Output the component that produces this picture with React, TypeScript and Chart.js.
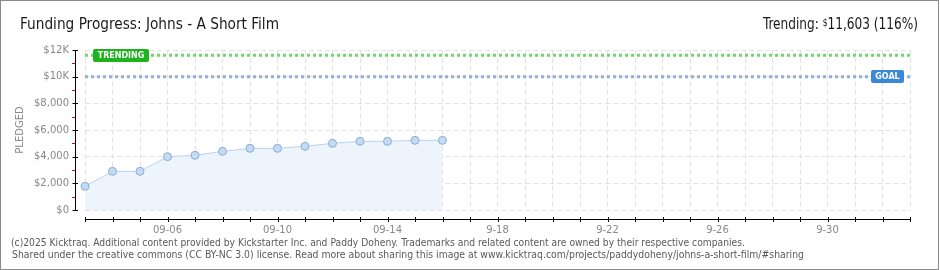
import React, { useEffect, useLayoutEffect, useRef } from 'react';
import { Chart, registerables } from 'chart.js';

Chart.register(...registerables);

// ---------- data ----------
const dateLabels = [
  '09-03', '09-04', '09-05', '09-06', '09-07', '09-08', '09-09', '09-10',
  '09-11', '09-12', '09-13', '09-14', '09-15', '09-16', '09-17', '09-18',
  '09-19', '09-20', '09-21', '09-22', '09-23', '09-24', '09-25', '09-26',
  '09-27', '09-28', '09-29', '09-30', '10-01', '10-02', '10-03',
];
const shownTickLabels: Record<string, string> = {
  '09-06': '09-06',
  '09-10': '09-10',
  '09-14': '09-14',
  '09-18': '9-18',
  '09-22': '9-22',
  '09-26': '9-26',
  '09-30': '9-30',
};
const pledged = [1775, 2900, 2900, 4000, 4100, 4400, 4625, 4625, 4775, 5000, 5150, 5150, 5225, 5225];
const goalValue = 10000;
const trendingValue = 11603;
const yMajorTicks = [0, 2000, 4000, 6000, 8000, 10000, 12000];
const yMinorTicks = [1000, 3000, 5000, 7000, 9000, 11000];

const titleText = 'Funding Progress: Johns - A Short Film';
const trendingPrefix = 'Trending: ';
const trendingAmount = '11,603 (116%)';
const footer1 = '(c)2025 Kicktraq. Additional content provided by Kickstarter Inc. and Paddy Doheny. Trademarks and related content are owned by their respective companies.';
const footer2 = 'Shared under the creative commons (CC BY-NC 3.0) license. Read more about sharing this image at www.kicktraq.com/projects/paddydoheny/johns-a-short-film/#sharing';

// ---------- helpers ----------
function FitText(props: { left: number; top: number; width: number; style: React.CSSProperties; children: React.ReactNode }) {
  const ref = useRef<HTMLDivElement>(null);
  useLayoutEffect(() => {
    const el = ref.current;
    if (!el) return;
    el.style.transform = 'none';
    const w = el.getBoundingClientRect().width;
    if (w > 0) el.style.transform = `scaleX(${props.width / w})`;
  });
  return (
    <div
      ref={ref}
      style={{
        position: 'absolute',
        left: props.left,
        top: props.top,
        whiteSpace: 'nowrap',
        transformOrigin: 'left top',
        ...props.style,
      }}
    >
      {props.children}
    </div>
  );
}

const decorPlugin = {
  id: 'decor',
  afterDatasetsDraw(chart: any) {
    const { ctx, chartArea: a, scales } = chart;
    const x = scales.x;
    const y = scales.y;
    ctx.save();
    ctx.lineWidth = 1;
    // y axis line
    const ax = a.left - 9.5;
    ctx.strokeStyle = '#000';
    ctx.beginPath();
    ctx.moveTo(ax, Math.round(y.getPixelForValue(12000)));
    ctx.lineTo(ax, Math.round(y.getPixelForValue(0)) + 1);
    ctx.stroke();
    yMajorTicks.forEach((v) => {
      const py = Math.round(y.getPixelForValue(v)) + 0.5;
      ctx.beginPath();
      ctx.moveTo(ax - 3, py);
      ctx.lineTo(ax + 2.5, py);
      ctx.stroke();
    });
    ctx.strokeStyle = '#e00000';
    yMinorTicks.forEach((v) => {
      const py = Math.round(y.getPixelForValue(v)) + 0.5;
      ctx.beginPath();
      ctx.moveTo(ax - 3.5, py);
      ctx.lineTo(ax - 0.5, py);
      ctx.stroke();
    });
    // x axis line
    const ay = a.bottom + 9.5;
    ctx.strokeStyle = '#000';
    ctx.beginPath();
    ctx.moveTo(Math.round(x.getPixelForValue(0)), ay);
    ctx.lineTo(Math.round(x.getPixelForValue(dateLabels.length - 1)) + 1, ay);
    ctx.stroke();
    dateLabels.forEach((_, i) => {
      const px = Math.round(x.getPixelForValue(i)) + 0.5;
      ctx.beginPath();
      ctx.moveTo(px, ay - 2.5);
      ctx.lineTo(px, ay + 2.5);
      ctx.stroke();
    });

    // labels on reference lines
    const drawTag = (text: string, color: string, value: number, anchorX: number, alignRight: boolean) => {
      ctx.font = 'bold 8px "DejaVu Sans"';
      const tw = ctx.measureText(text).width;
      const w = Math.round(tw + 9);
      const h = 13;
      const cy = y.getPixelForValue(value);
      const top = Math.round(cy - h / 2);
      const left = alignRight ? anchorX - w : anchorX;
      ctx.fillStyle = color;
      ctx.beginPath();
      (ctx as any).roundRect(left, top, w, h, 2);
      ctx.fill();
      ctx.fillStyle = '#fff';
      ctx.textBaseline = 'middle';
      ctx.textAlign = 'center';
      ctx.fillText(text, left + w / 2, top + h / 2 + 0.5);
    };
    drawTag('TRENDING', '#1db31d', trendingValue, a.left + 8, false);
    drawTag('GOAL', '#3b88d8', goalValue, a.right - 6, true);
    ctx.restore();
  },
};

export default function App() {
  const canvasRef = useRef<HTMLCanvasElement>(null);

  useEffect(() => {
    document.body.style.margin = '0';
    const canvas = canvasRef.current;
    if (!canvas) return;
    Chart.defaults.font.family = '"DejaVu Sans", sans-serif';
    const n = dateLabels.length;
    const chart = new Chart(canvas, {
      type: 'line',
      data: {
        labels: dateLabels,
        datasets: [
          {
            label: 'Pledged',
            data: pledged,
            borderColor: '#b9d4f1',
            backgroundColor: '#edf4fc',
            borderWidth: 1,
            fill: 'origin',
            tension: 0,
            pointRadius: 4,
            pointBackgroundColor: '#c3dbf5',
            pointBorderColor: '#8fabd2',
            pointBorderWidth: 1,
            order: 3,
          },
          {
            label: 'Trending',
            data: new Array(n).fill(trendingValue),
            borderColor: '#6fd86f',
            borderWidth: 3,
            borderDash: [3, 3],
            pointRadius: 0,
            fill: false,
            order: 1,
          },
          {
            label: 'Goal',
            data: new Array(n).fill(goalValue),
            borderColor: '#8db1dc',
            borderWidth: 3,
            borderDash: [3, 3],
            pointRadius: 0,
            fill: false,
            order: 2,
          },
        ],
      },
      options: {
        animation: false,
        responsive: false,
        devicePixelRatio: 1,
        events: [],
        layout: { padding: { left: 0, top: 50, right: 30, bottom: 0 } },
        plugins: { legend: { display: false }, tooltip: { enabled: false }, title: { display: false } },
        scales: {
          x: {
            type: 'category',
            offset: false,
            grid: { color: '#e2e2e2', drawTicks: false, lineWidth: 1 },
            border: { display: false, dash: [5, 3] },
            ticks: {
              autoSkip: false,
              maxRotation: 0,
              minRotation: 0,
              padding: 14,
              color: '#888',
              font: { size: 10 },
              callback: (_v: any, i: number) => shownTickLabels[dateLabels[i]] ?? '',
            },
            afterFit: (s: any) => {
              s.height = 60;
            },
          },
          y: {
            min: 0,
            max: 12000,
            grid: { color: '#e2e2e2', drawTicks: false, lineWidth: 1 },
            border: { display: false, dash: [5, 3] },
            ticks: {
              stepSize: 2000,
              padding: 16,
              color: '#888',
              font: { size: 10 },
              callback: (v: any) => (v >= 10000 ? `$${v / 1000}K` : `$${Number(v).toLocaleString('en-US')}`),
            },
            title: {
              display: true,
              text: 'PLEDGED',
              color: '#888',
              font: { size: 10 },
              padding: { top: 14, bottom: 0 },
            },
            afterFit: (s: any) => {
              s.width = 85;
            },
          },
        },
      },
      plugins: [decorPlugin],
    });
    return () => chart.destroy();
  }, []);

  return (
    <div style={{ position: 'absolute', left: 0, top: 0, width: 940, height: 270, background: '#fff', overflow: 'hidden' }}>
      <canvas ref={canvasRef} width={940} height={270} style={{ position: 'absolute', left: 0, top: 0, width: 940, height: 270 }} />
      <FitText left={20} top={15} width={259} style={{ font: '16px "DejaVu Sans Condensed", "DejaVu Sans", sans-serif', color: '#1a1a1a', lineHeight: '18px' }}>
        {titleText}
      </FitText>
      <FitText left={763} top={15} width={155} style={{ font: '16px "DejaVu Sans Condensed", "DejaVu Sans", sans-serif', color: '#1a1a1a', lineHeight: '18px' }}>
        {trendingPrefix}
        <span style={{ fontSize: 10, verticalAlign: 'top', position: 'relative', top: -1 }}>$</span>
        {trendingAmount}
      </FitText>
      <FitText left={11} top={237} width={734} style={{ font: '10px "DejaVu Sans", sans-serif', color: '#5a5a5a', lineHeight: '12px' }}>
        {footer1}
      </FitText>
      <FitText left={12} top={249} width={792} style={{ font: '10px "DejaVu Sans", sans-serif', color: '#5a5a5a', lineHeight: '12px' }}>
        {footer2}
      </FitText>
      <div style={{ position: 'absolute', left: 0, top: 0, width: 939, height: 270, boxSizing: 'border-box', border: '1px solid #8a8a8a', pointerEvents: 'none' }} />
    </div>
  );
}
